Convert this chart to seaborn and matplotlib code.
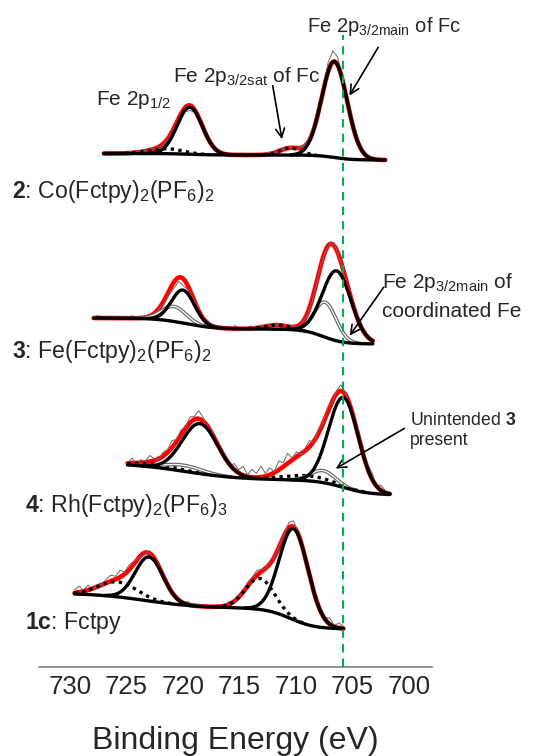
import numpy as np
import matplotlib
matplotlib.use("Agg")
import matplotlib.pyplot as plt
import seaborn as sns

sns.set_style("white")
plt.rcParams["font.family"] = ["Liberation Sans", "DejaVu Sans"]
plt.rcParams["mathtext.fontset"] = "custom"
plt.rcParams["mathtext.rm"] = "Liberation Sans"
plt.rcParams["mathtext.it"] = "Liberation Sans:italic"
plt.rcParams["mathtext.bf"] = "Liberation Sans:bold"
plt.rcParams["mathtext.default"] = "regular"

RED = "#ff0000"
GREEN = "#00b050"

ticks = [730, 725, 720, 715, 710, 705, 700]
fe_ref = 705.8   # reference line (eV)

# each spectrum: energy range, background (right level + steps),
# fitted peaks (style, centre eV, height, fwhm eV) and raw residuals
# ---- 2: Co(Fctpy)2(PF6)2 ----
s2_range = (727.0, 702.1)
s2_bg_right = 507
s2_steps = [(719.4, 1.5, 1.0), (706.6, 5.0, 0.8)]
s2_peaks = [("solid", 719.4, 47, 2.6),
            ("dotted", 721.5, 5, 3.5),
            ("dotted", 710.5, 7, 2.2),
            ("solid", 706.6, 96, 2.65)]
s2_resid = [0.5, -1, 1.5, 0, 1, -0.5, 2, 0.5, 1.5, 0,
            1, 0.5, -1, -1.5, -2, -1, -3, -4, -5, -3,
            -1, 1, -1, 0.5, 2, -0.5, 1.5, -1, 0, 2,
            -2, 1, 0, -1.5, 1, 2, -1, 2.5, 0, 1,
            -1.5, 1, 0.5, 2, 3, 4, 6, 9, 11, 8,
            3, -1, -2, -1, 0, 2, 1, -1, 1.5, -0.5]

# ---- 3: Fe(Fctpy)2(PF6)2 ----
s3_range = (727.9, 703.2)
s3_bg_right = 323
s3_steps = [(719.8, 11, 1.3), (707.6, 15, 0.9)]
s3_peaks = [("double", 720.8, 15, 2.6),
            ("solid", 720.0, 33, 2.4),
            ("dotted", 711.7, 4, 2.5),
            ("double", 707.4, 35, 2.3),
            ("solid", 706.4, 70, 3.0)]
s3_resid = [1, 2.5, 0, 2, -0.5, 2, 1, 0, 2.5, 0.5,
            2, -1.5, 1, -2, -1, -3, -4, -6, -4, -7,
            -3, -1, 2, -2, 3, 1, -1, 2, 0, 1.5,
            3, 0, -2, 2.5, 1, -3, 2, 0.5, -1, 1,
            2, 0, 1.5, -1, 0.5, -2, -3, -2, 0, -1,
            1, 2, -1, -3, -2, 1, 2, -1, 1, 0]

# ---- 4: Rh(Fctpy)2(PF6)3 ----
s4_range = (724.9, 701.7)
s4_bg_right = 172
s4_steps = [(719.8, 17, 2.5), (705.8, 15, 1.2)]
s4_peaks = [("dotted", 722.5, 3, 5.0),
            ("double", 720.0, 6, 4.0),
            ("solid", 718.5, 50, 3.7),
            ("hidden", 709.5, 18, 3.5),
            ("dotted", 709.0, 5, 5.0),
            ("double", 707.6, 12, 2.5),
            ("solid", 705.8, 90, 3.1)]
s4_resid = [0, 5, -1, 3, 1, 6, 2, -1, 4, 3,
            7, 2, 5, 1, 6, 3, 8, 4, -2, 3,
            -3, 1, 4, -2, 6, 3, 9, 2, 8, 4,
            11, 3, 7, 1, 9, 4, 10, 2, 5, -1,
            3, 6, -2, 4, 1, 5, -1, 3, 6, 2,
            -3, 2, 5, -1, 4, 6, 1, 5, 2, -1]

# ---- 1c: Fctpy ----
s1c_range = (729.6, 705.8)
s1c_bg_right = 38
s1c_steps = [(723.3, 15, 2.35), (710.5, 21, 1.1)]
s1c_peaks = [("dotted", 725.75, 15, 4.0),
             ("solid", 723.0, 44, 2.9),
             ("dotted", 713.2, 31, 3.0),
             ("solid", 710.2, 91, 3.0)]
s1c_resid = [3, 6, 1, 5, -1, 2, 0, 4, 6, 3,
             7, 2, 5, 3, 0, -2, 1, -1, -3, 2,
             -1, 2, 0, -2, 1, 3, -1, 2, 0, 1,
             -1, 2, -2, 1, 3, -1, 0, 2, 4, 3,
             5, 2, -1, 3, 0, 1, 3, 5, 6, 2,
             -1, 1, 3, 0, 4, 2, 6, 1, 5, 2]

spectra = [(s2_range, s2_bg_right, s2_steps, s2_peaks, s2_resid),
           (s3_range, s3_bg_right, s3_steps, s3_peaks, s3_resid),
           (s4_range, s4_bg_right, s4_steps, s4_peaks, s4_resid),
           (s1c_range, s1c_bg_right, s1c_steps, s1c_peaks, s1c_resid)]


def logistic(e, c, s):
    return 1.0 / (1.0 + np.exp(-(e - c) / s))


def gauss(e, c, h, w):
    return h * np.exp(-4 * np.log(2) * (e - c) ** 2 / w ** 2)


def model(e, bg_right, steps, peaks):
    bg = bg_right + sum(h * logistic(e, c, s) for c, h, s in steps)
    comps = [(style, gauss(e, c, h, w)) for style, c, h, w in peaks]
    return bg, comps


def line(ax, x, y, **kw):
    sns.lineplot(x=x, y=y, ax=ax, estimator=None, sort=False, legend=False, **kw)


def draw_spectrum(ax, e_range, bg_right, steps, peaks, resid):
    e = np.linspace(e_range[0], e_range[1], 600)
    bg, comps = model(e, bg_right, steps, peaks)
    env = bg + sum(g for _, g in comps)
    line(ax, e, env, color=RED, lw=3.3)

    e_raw = np.linspace(e_range[0], e_range[1], len(resid))
    bg_r, comps_r = model(e_raw, bg_right, steps, peaks)
    raw = bg_r + sum(g for _, g in comps_r) + np.array(resid)
    line(ax, e_raw, raw, color="#6a6a6a", lw=0.7)

    for style, g in comps:
        m = g > 0.25
        if style == "hidden" or m.sum() < 2:
            continue
        y = bg[m] + g[m]
        if style == "solid":
            line(ax, e[m], y, color="black", lw=2.4)
        elif style == "double":
            line(ax, e[m], y, color="#666666", lw=2.6)
            line(ax, e[m], y, color="white", lw=0.9)
        elif style == "dotted":
            line(ax, e[m], y, color="black", lw=2.4, linestyle=(0, (1, 1.3)))
    line(ax, e, bg, color="black", lw=2.4)


fig = plt.figure(figsize=(5.42, 7.56), dpi=100)
ax = fig.add_axes([39 / 542, 89 / 756, 392.7 / 542, 667 / 756])

for spec in spectra:
    draw_spectrum(ax, *spec)

ax.axvline(fe_ref, ymin=0, ymax=632 / 667, color=GREEN, lw=1.5,
           linestyle=(0, (4, 3)), zorder=5)

ax.set_xlim(732.74, 697.99)
ax.set_ylim(0, 667)
ax.set_xticks(ticks)
ax.set_yticks([])
ax.tick_params(axis="x", direction="in", length=5, width=1, color="#808080",
               labelsize=18.5, pad=6)
sns.despine(ax=ax, left=True)
ax.spines["bottom"].set_color("#808080")
ax.spines["bottom"].set_linewidth(1.2)
ax.set_xlabel("Binding Energy (eV)", fontsize=23, labelpad=19)
ax.set_ylabel("")

tk = dict(fontsize=15, va="baseline", ha="left", clip_on=False)
ax.text(727.7, 562, r"Fe 2p$_{1/2}$", **tk)
ax.text(720.9, 585, r"Fe 2p$_{3/2sat}$ of Fc", **tk)
ax.text(709.0, 635, r"Fe 2p$_{3/2main}$ of Fc", fontsize=14.5, va="baseline",
        ha="left", clip_on=False)
ax.text(702.4, 379, r"Fe 2p$_{3/2main}$ of", **tk)
ax.text(702.4, 350, "coordinated Fe", **tk)
ax.text(699.9, 242, r"Unintended $\mathbf{3}$", fontsize=12.7, va="baseline",
        ha="left", clip_on=False)
ax.text(699.9, 222, "present", fontsize=12.7, va="baseline", ha="left", clip_on=False)

lk = dict(fontsize=16.7, va="baseline", ha="left", clip_on=False)
ax.text(735.1, 469, r"$\mathbf{2}$: Co(Fctpy)$_2$(PF$_6$)$_2$", **lk)
ax.text(735.1, 309, r"$\mathbf{3}$: Fe(Fctpy)$_2$(PF$_6$)$_2$", **lk)
ax.text(734.0, 155, r"$\mathbf{4}$: Rh(Fctpy)$_2$(PF$_6$)$_3$", **lk)
ax.text(734.0, 38, r"$\mathbf{1c}$: Fctpy", **lk)

arrow = dict(arrowstyle="->", lw=1.2, color="black", mutation_scale=16)
ax.annotate("", xy=(711.2, 525), xytext=(712.1, 584), arrowprops=arrow)
ax.annotate("", xy=(705.4, 569), xytext=(702.6, 622), arrowprops=arrow)
ax.annotate("", xy=(705.4, 329), xytext=(702.1, 382), arrowprops=arrow)
ax.annotate("", xy=(706.7, 197), xytext=(700.2, 240), arrowprops=arrow)

fig.savefig("out.png", dpi=100)
